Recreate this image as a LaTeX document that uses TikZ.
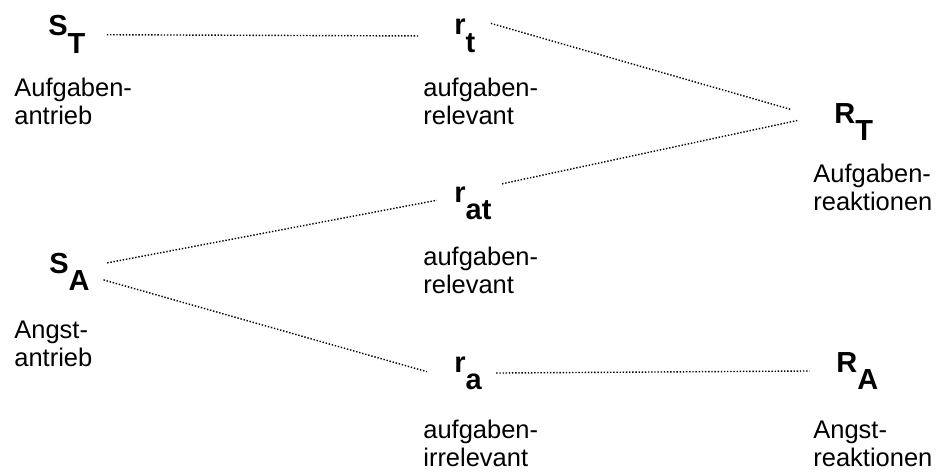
\documentclass[tikz,border=0pt]{standalone}
\usepackage{fontspec}
\setmainfont{Liberation Sans}
\usetikzlibrary{positioning}

% big label with a lowered index letter
\newcommand{\lab}[2]{#1\raisebox{-10pt}{#2}}

\begin{document}
\begin{tikzpicture}
    \useasboundingbox (0,0) rectangle (18.74,9.46);
    \begin{scope}[every node/.style={anchor=base west,inner sep=0pt,
        font=\fontsize{16.5}{19}\selectfont\bfseries}]
    \node (sT) at (0.96,8.74) {\lab{S}{T}};
    \node (rt) at (9.08,8.76) {\lab{r}{t}};
    \node (RT) at (16.68,7.00) {\lab{R}{T}};
    \node (rat) at (9.08,5.42) {\lab{r}{at}};
    \node (sA) at (0.98,4.00) {\lab{S}{A}};
    \node (ra) at (9.08,2.02) {\lab{r}{a}};
    \node (RA) at (16.72,2.02) {\lab{R}{A}};
    \end{scope}
    % anchor base is the baseline of the second line here
    \begin{scope}[every node/.style={anchor=base west,inner sep=0pt,align=left,
        font=\fontsize{14.5}{15.6}\selectfont}]
    \node (tA) at (0.28,6.98) {Aufgaben-\\antrieb};
    \node (tr) at (8.46,6.98) {aufgaben-\\relevant};
    \node (tR) at (16.26,5.26) {Aufgaben-\\reaktionen};
    \node (tar) at (8.46,3.60) {aufgaben-\\relevant};
    \node (aA) at (0.28,2.14) {Angst-\\antrieb};
    \node (ai) at (8.46,0.14) {aufgaben-\\irrelevant};
    \node (aR) at (16.26,0.14) {Angst-\\reaktionen};
    \end{scope}
    \begin{scope}[every edge/.style={draw=black,line width=0.8pt,densely dotted}]
    \path (sT.east) edge[shorten <=12pt,shorten >=20pt] (rt.west);
    \path (rt.north east) edge[shorten <=9pt,shorten >=25pt] (RT.west);
    \path (rat.north east) edge[shorten <=6pt,shorten >=21pt] (RT.155);
    \path (sA.15) edge[shorten <=10pt,shorten >=10pt] (rat.162);
    \path (sA.348) edge[shorten <=8pt,shorten >=16pt] (ra.204);
    \path (ra.east) edge[shorten <=8pt,shorten >=15pt] (RA.west);
    \end{scope}
\end{tikzpicture}
\end{document}
